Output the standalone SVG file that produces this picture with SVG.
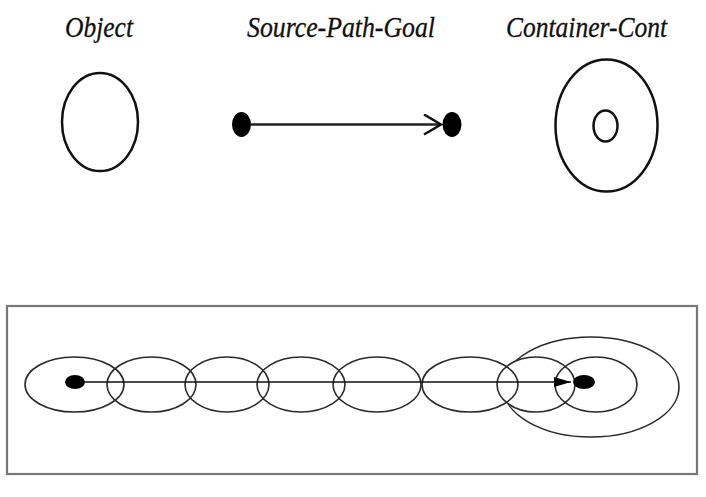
<svg xmlns="http://www.w3.org/2000/svg" width="706" height="497" viewBox="0 0 706 497">
<style>
.lbl{font-family:"Liberation Serif","Times New Roman",serif;font-style:italic;font-size:30px;fill:#111;stroke:#111;stroke-width:0.3}
.top{fill:none;stroke:#111;stroke-width:2.5}
.bot{fill:none;stroke:#2a2a2a;stroke-width:1.6}
.dot{fill:#000}
</style>
<defs>
<marker id="open" markerWidth="20" markerHeight="24" refX="18" refY="11" orient="auto" markerUnits="userSpaceOnUse">
<path d="M1,1 L18,11 L1,21" fill="none" stroke="#111" stroke-width="2.5"/>
</marker>
<marker id="fill" markerWidth="20" markerHeight="12" refX="17" refY="5" orient="auto" markerUnits="userSpaceOnUse">
<path d="M0,0 L17,5 L0,10 Z" fill="#000"/>
</marker>
</defs>
<rect width="706" height="497" fill="#fff"/>
<g id="labels">
<text class="lbl" x="65" y="37" textLength="68" lengthAdjust="spacingAndGlyphs">Object</text>
<text class="lbl" x="247" y="37" textLength="188" lengthAdjust="spacingAndGlyphs">Source-Path-Goal</text>
<text class="lbl" x="506" y="37" textLength="161" lengthAdjust="spacingAndGlyphs">Container-Cont</text>
</g>
<g id="object">
<ellipse class="top" cx="100" cy="122" rx="38" ry="49"/>
</g>
<g id="spg-source">
<ellipse class="dot" cx="241.5" cy="124.5" rx="9.5" ry="12.5"/>
</g>
<g id="spg-goal">
<ellipse class="dot" cx="452" cy="124.5" rx="9.5" ry="12.5"/>
</g>
<g id="container">
<ellipse class="top" cx="606.5" cy="125.5" rx="51" ry="66"/>
<ellipse class="top" cx="605.5" cy="126" rx="12" ry="15.5"/>
</g>
<g id="frame">
<rect x="7" y="306" width="690" height="168" fill="none" stroke="#777" stroke-width="2.2"/>
</g>
<g id="bottom-shapes">
<ellipse class="bot" cx="591" cy="387" rx="88" ry="50"/>
<ellipse cx="536" cy="384.5" rx="39" ry="27.5" fill="#fff"/>
<ellipse class="bot" cx="74.5" cy="384.5" rx="49.5" ry="27.5"/>
<ellipse class="bot" cx="151.5" cy="384.5" rx="44.5" ry="27.5"/>
<ellipse class="bot" cx="227" cy="384.5" rx="42" ry="27.5"/>
<ellipse class="bot" cx="301" cy="384.5" rx="44" ry="27.5"/>
<ellipse class="bot" cx="377" cy="384.5" rx="44" ry="27.5"/>
<ellipse class="bot" cx="470" cy="384.5" rx="48" ry="27.5"/>
<ellipse class="bot" cx="536" cy="384.5" rx="39" ry="27.5"/>
<ellipse class="bot" cx="596" cy="384.5" rx="41" ry="27.5"/>
<ellipse class="dot" cx="75" cy="382" rx="10" ry="7"/>
<ellipse class="dot" cx="584" cy="382" rx="11" ry="7"/>
</g>
<g id="connectors">
<line x1="250" y1="124.5" x2="441" y2="124.5" stroke="#222" stroke-width="2.5" marker-end="url(#open)"/>
<line x1="80" y1="382" x2="571" y2="382" stroke="#111" stroke-width="1.6" marker-end="url(#fill)"/>
</g>
</svg>
